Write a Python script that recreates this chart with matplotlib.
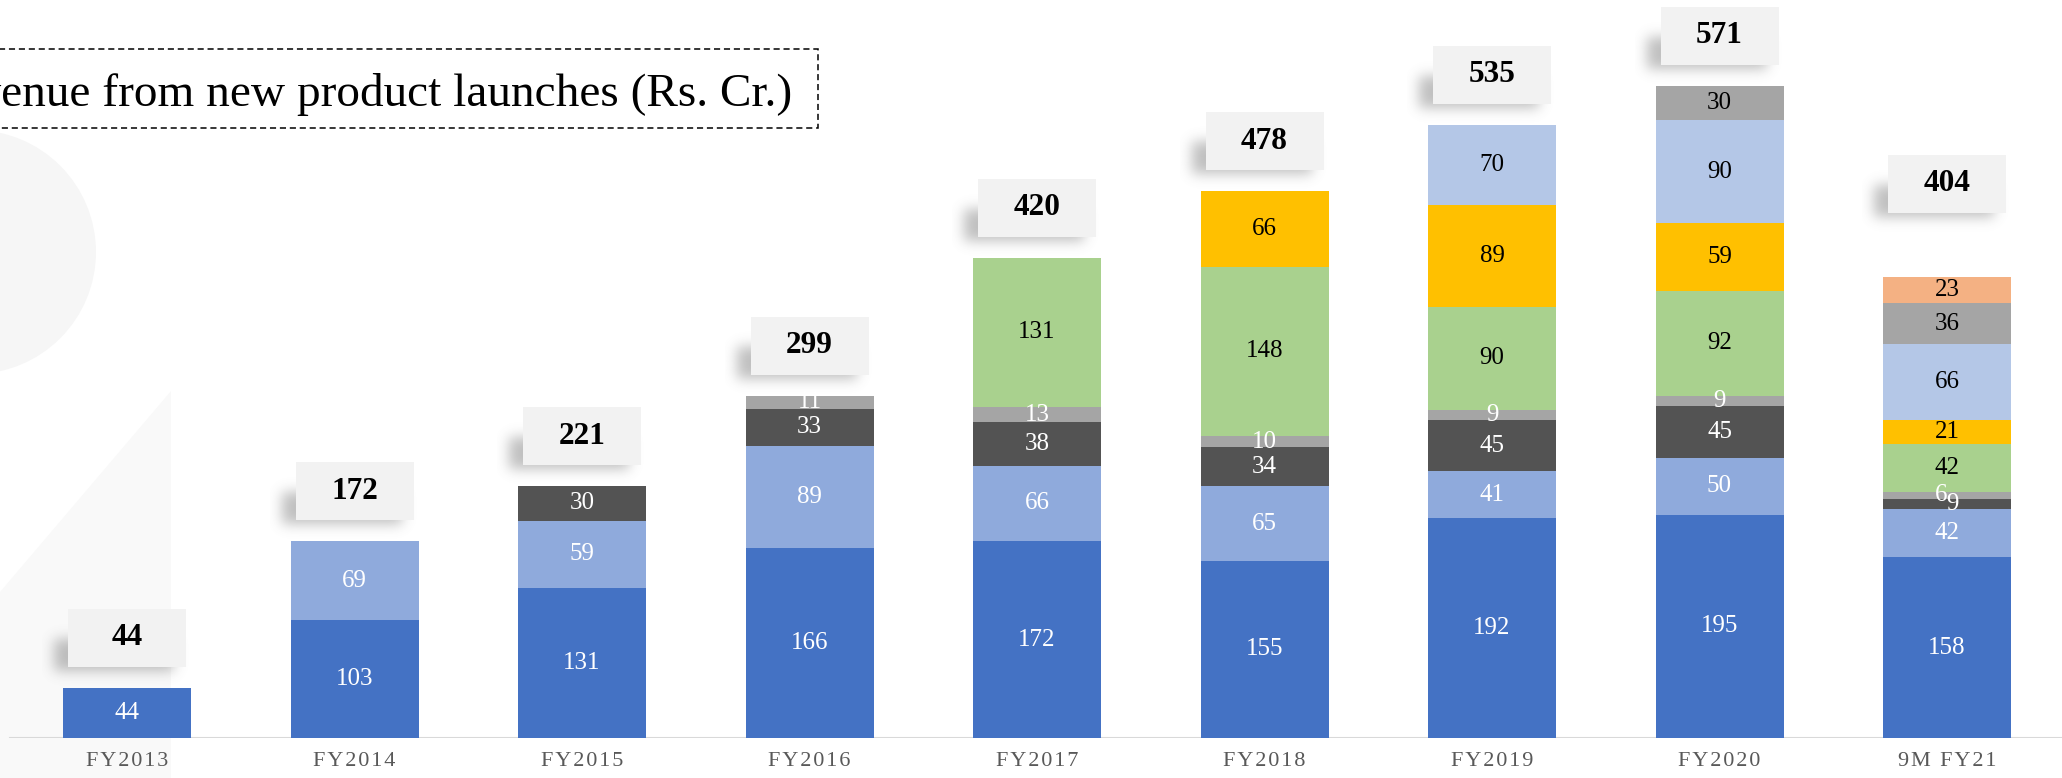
import matplotlib.pyplot as plt
import numpy as np
from matplotlib.patches import Rectangle, Circle, Polygon

plt.rcParams['font.family'] = ['Liberation Serif', 'DejaVu Serif']

# data (Rs. Cr.)
years = ['FY2013', 'FY2014', 'FY2015', 'FY2016', 'FY2017', 'FY2018', 'FY2019', 'FY2020', '9M FY21']
s1 = [44, 103, 131, 166, 172, 155, 192, 195, 158]
s2 = [0, 69, 59, 89, 66, 65, 41, 50, 42]
s3 = [0, 0, 30, 33, 38, 34, 45, 45, 9]
s4 = [0, 0, 0, 11, 13, 10, 9, 9, 6]
s5 = [0, 0, 0, 0, 131, 148, 90, 92, 42]
s6 = [0, 0, 0, 0, 0, 66, 89, 59, 21]
s7 = [0, 0, 0, 0, 0, 0, 70, 90, 66]
s8 = [0, 0, 0, 0, 0, 0, 0, 30, 36]
s9 = [0, 0, 0, 0, 0, 0, 0, 0, 23]
totals = [44, 172, 221, 299, 420, 478, 535, 571, 404]

series = [s1, s2, s3, s4, s5, s6, s7, s8, s9]
colors = ['#4472C4', '#8FAADC', '#535353', '#A5A5A5', '#A9D18E',
          '#FFC000', '#B4C7E7', '#A5A5A5', '#F4B183']
txt_colors = ['white'] * 4 + ['black'] * 5

W, H = 2062, 778
PX_X = 227.5   # pixels per category
PX_Y = 1.144   # pixels per Rs. Cr.
X0 = 127       # pixel centre of first bar
BASE = 738     # pixel row of the baseline

fig = plt.figure(figsize=(W / 100, H / 100), dpi=100)

# background decoration + title box (pixel coords)
bg = fig.add_axes([0, 0, 1, 1])
bg.set_xlim(0, W)
bg.set_ylim(H, 0)
bg.axis('off')
bg.add_patch(Circle((-26, 252), 122, color='#f6f6f6', lw=0))
bg.add_patch(Polygon([(171, 391), (171, H), (0, H), (0, 592)], closed=True,
                     color='#f9f9f9', lw=0))
bg.add_patch(Rectangle((-10, 49), 828, 79, fill=False, ec='black', lw=1.1,
                       ls=(0, (4, 2.5))))
bg.text(792, 94, 'Revenue from new product launches (Rs. Cr.)', ha='right',
        va='center', fontsize=34)

ax = fig.add_axes([0, (H - BASE) / H, 1, BASE / H])
ax.patch.set_alpha(0)

x = np.arange(len(years))
bar_w = 128 / PX_X
bottom = np.zeros(len(years))
for k, (vals, col, tc) in enumerate(zip(series, colors, txt_colors)):
    vals = np.array(vals, dtype=float)
    ax.bar(x, vals, bar_w, bottom=bottom, color=col, lw=0, zorder=2)
    for i, v in enumerate(vals):
        if v <= 0:
            continue
        dx = 0
        if years[i] == '9M FY21' and k == 2:
            dx = 0.025
        if years[i] == '9M FY21' and k == 3:
            dx = -0.025
        ax.text(x[i] + dx, bottom[i] + v / 2, f'{int(v)}', ha='center', va='center',
                fontsize=18, color=tc, zorder=6)
    bottom += vals

# total callouts with soft shadow
box_w = 118 / PX_X
box_h = 58 / PX_Y
pad = 26
sw, sh = 118 + 2 * pad, 58 + 2 * pad
mask = np.zeros((sh, sw))
mask[pad + 30:pad + 58 + 4, pad - 14:pad + 118 - 12] = 1.0
g = np.exp(-0.5 * (np.arange(-20, 21) / 6.5) ** 2)
g /= g.sum()
mask = np.apply_along_axis(lambda r: np.convolve(r, g, mode='same'), 1, mask)
mask = np.apply_along_axis(lambda c: np.convolve(c, g, mode='same'), 0, mask)
shadow = np.zeros((sh, sw, 4))
shadow[..., :3] = 0.4
shadow[..., 3] = mask * 0.42

for i, t in enumerate(totals):
    lift = 64 if years[i] == '9M FY21' else 21
    yb = bottom[i] + lift / PX_Y
    ax.imshow(shadow, extent=(x[i] - box_w / 2 - pad / PX_X, x[i] + box_w / 2 + pad / PX_X,
                              yb - pad / PX_Y, yb + box_h + pad / PX_Y),
              aspect='auto', zorder=3, interpolation='bilinear')
    ax.add_patch(Rectangle((x[i] - box_w / 2, yb), box_w, box_h, fc='#f2f2f2',
                           lw=0, zorder=4))
    ax.text(x[i], yb + box_h / 2, str(t), ha='center', va='center', fontsize=22.5,
            fontweight='bold', color='black', zorder=6)

ax.axhline(0, xmin=10 / W, xmax=1, color='#d9d9d9', lw=1.5, zorder=1)
for s in ax.spines.values():
    s.set_visible(False)
ax.set_xticks(x, ['\u200a'.join(y) for y in years])
ax.tick_params(axis='x', length=0, pad=10, labelsize=16, labelcolor='#595959')
ax.set_yticks([])
ax.set_xlim(-X0 / PX_X, (W - X0) / PX_X)
ax.set_ylim(0, BASE / PX_Y)

fig.savefig('out.png', dpi=100)
